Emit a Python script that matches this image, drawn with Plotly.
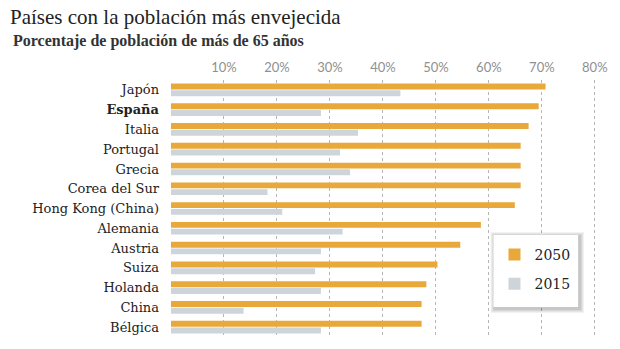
import plotly.graph_objects as go

countries = ["Japón", "España", "Italia", "Portugal", "Grecia", "Corea del Sur",
             "Hong Kong (China)", "Alemania", "Austria", "Suiza", "Holanda", "China", "Bélgica"]
v2050 = [70.7, 69.4, 67.5, 66.0, 66.0, 66.0, 64.9, 58.5, 54.6, 50.3, 48.2, 47.3, 47.3]
v2015 = [43.3, 28.3, 35.3, 31.9, 33.8, 18.2, 21.0, 32.4, 28.3, 27.2, 28.3, 13.7, 28.3]
tick_vals = [10, 20, 30, 40, 50, 60, 70, 80]
tick_text = ["10%", "20%", "30%", "40%", "50%", "60%", "70%", "80%"]

labels = ["<b>%s</b>" % c if c == "España" else c for c in countries]

ORANGE = "#E9A83A"
GREY = "#CDD5DB"

fig = go.Figure()
fig.add_trace(go.Bar(y=labels, x=v2050, orientation="h", name="2050",
                     marker=dict(color=ORANGE, line=dict(width=0)), legendgroup="a"))
fig.add_trace(go.Bar(y=labels, x=v2015, orientation="h", name="2015",
                     marker=dict(color=GREY, line=dict(width=0)), legendgroup="b"))

serif = "Liberation Serif, DejaVu Serif, serif"
wide_serif = "DejaVu Serif, serif"

# legend box (paper coords) and a soft drop shadow behind it
L, R, T, B = (495 - 171) / 429, (580 - 171) / 429, 1 - (235 - 80) / 257, 1 - (307 - 80) / 257
shapes = []
for i, op in enumerate([0.05, 0.05, 0.06, 0.07]):
    d = (4 - i)
    shapes.append(dict(type="rect", xref="paper", yref="paper", layer="above",
                       x0=L - d / 429 + 1 / 429, x1=R + d / 429 + 2 / 429,
                       y0=B - d / 257 - 2 / 257, y1=T + d / 257 - 1 / 257,
                       fillcolor="rgba(0,0,0,%s)" % op, line=dict(width=0)))
shapes.append(dict(type="rect", xref="paper", yref="paper", layer="above",
                   x0=L, x1=R, y0=B, y1=T, fillcolor="white", line=dict(width=0)))

fig.update_layout(
    width=620, height=349,
    margin=dict(l=171, r=20, t=80, b=12),
    paper_bgcolor="white", plot_bgcolor="white",
    barmode="group", bargap=0.32, bargroupgap=0.12,
    title=dict(text="Países con la población más envejecida",
               x=10/620, xref="container", xanchor="left",
               y=1-17/349, yref="container", yanchor="middle",
               font=dict(family=serif, size=21, color="#222")),
    xaxis=dict(side="top", range=[0, 80.6], tickvals=tick_vals, ticktext=tick_text,
               showgrid=True, gridcolor="#B5B5B5", griddash="dot", gridwidth=1,
               zeroline=False, showline=False, ticks="",
               tickfont=dict(family="Lato, Open Sans, sans-serif", size=13, color="#8f8f8f"),
               ticklabelstandoff=4, fixedrange=True),
    yaxis=dict(autorange="reversed", showgrid=False, zeroline=False, showline=False,
               ticks="", ticklabelstandoff=11,
               tickfont=dict(family=wide_serif, size=13, color="#222")),
    legend=dict(x=L + 1 / 429, y=T - 4 / 257, xanchor="left", yanchor="top",
                bgcolor="rgba(0,0,0,0)", borderwidth=0,
                font=dict(family=wide_serif, size=14, color="#222"),
                traceorder="grouped", tracegroupgap=8,
                itemwidth=30),
    shapes=shapes,
    annotations=[dict(text="<b>Porcentaje de población de más de 65 años</b>",
                      xref="paper", yref="paper", x=-(171-10)/429, y=1+(80-41)/257,
                      xanchor="left", yanchor="middle", showarrow=False,
                      font=dict(family=serif, size=16, color="#333"))],
    showlegend=True,
)

fig.write_html("out.html")
